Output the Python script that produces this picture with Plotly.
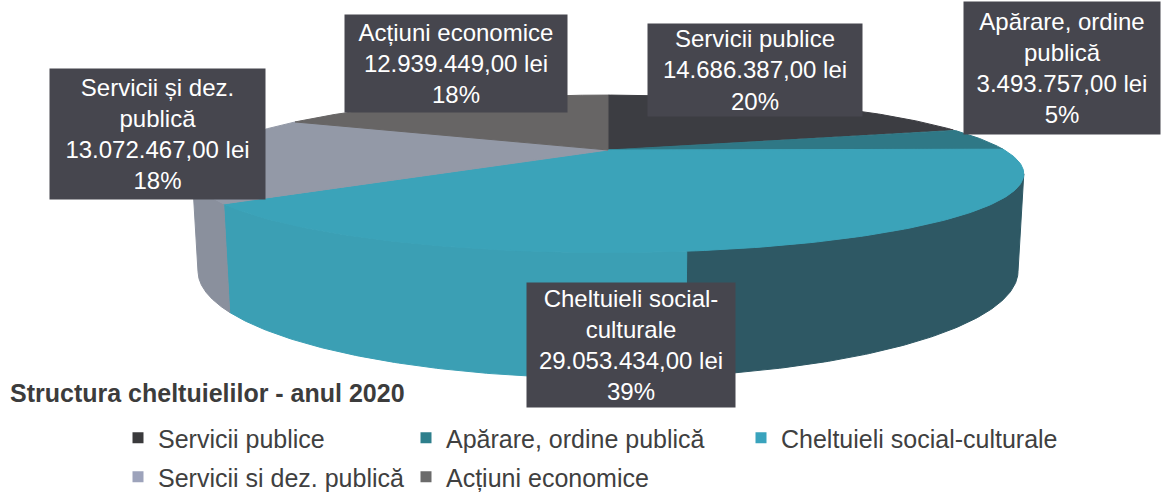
import numpy as np
import plotly.graph_objects as go

# ---------------- data ----------------
categories = ["Servicii publice", "Apărare, ordine publică", "Cheltuieli social-culturale",
              "Servicii si dez. publică", "Acțiuni economice"]
label_names = ["Servicii publice", "Apărare, ordine<br>publică", "Cheltuieli social-<br>culturale",
               "Servicii și dez.<br>publică", "Acțiuni economice"]
values = [14686387.00, 3493757.00, 29053434.00, 13072467.00, 12939449.00]
pct_labels = ["20%", "5%", "39%", "18%", "18%"]
chart_title = "Structura cheltuielilor - anul 2020"

# ---------------- styles ----------------
top_colors = ["#3c3d42", "#2f7886", "#3ba3b9", "#9399a7", "#676565"]
side_lit = ["#37383d", "#2a6a77", "#3b9fb4", "#8a909d", "#5f5d5d"]
side_dark = ["#303136", "#255a64", "#2e5864", "#7d828e", "#555353"]
legend_colors = ["#3a3a3c", "#2e7f8c", "#39a3bd", "#9da3bb", "#6b6b6b"]
FONT = "Liberation Sans, Arial, sans-serif"

# label boxes (pixel centre x, centre y, width, height)
label_boxes = [(755, 70, 214, 92), (1062, 68, 196, 132), (631, 345, 208, 124),
               (157, 134, 215, 130), (456, 63, 222, 97)]
# legend entries (text start x, centre y)
legend_pos = [(158, 438), (446, 438), (781, 438), (158, 477), (446, 477)]

W_PX, H_PX = 1162, 495
CX, CY = 608, 150
K = 1288.0
DIST = 3.25
ALPHA = np.radians(10.4)
THICK = 0.232
SIL = np.degrees(np.arccos(-np.cos(ALPHA) / DIST))
SHADE_SPLIT = 172.0


def proj(phi_deg, z):
    p = np.radians(np.asarray(phi_deg, dtype=float))
    X = np.sin(p)
    Wd = np.cos(p)
    depth = DIST + Wd * np.cos(ALPHA) - z * np.sin(ALPHA)
    v = Wd * np.sin(ALPHA) + z * np.cos(ALPHA)
    return CX + K * X / depth, CY - K * v / depth


def fmt_lei(v):
    s = f"{v:,.2f}"
    s = s.replace(",", "X").replace(".", ",").replace("X", ".")
    return s + " lei"


total = sum(values)
bounds = np.concatenate([[0.0], np.cumsum([v / total * 360.0 for v in values])])

fig = go.Figure()


def add_poly(xs, ys, color):
    fig.add_trace(go.Scatter(x=list(xs), y=list(ys), mode="lines", fill="toself",
                             fillcolor=color, line=dict(color=color, width=1),
                             hoverinfo="skip", showlegend=False))


# sides (front visible part only)
for i in range(len(values)):
    a, b = bounds[i], bounds[i + 1]
    lo, hi = max(a, SIL), min(b, 360 - SIL)
    if hi <= lo:
        continue
    if lo < SHADE_SPLIT < hi:
        pieces = [(lo, SHADE_SPLIT, side_dark[i]), (SHADE_SPLIT, hi, side_lit[i])]
    elif hi <= SHADE_SPLIT:
        pieces = [(lo, hi, side_dark[i])]
    else:
        pieces = [(lo, hi, side_lit[i])]
    for (p0, p1, col) in pieces:
        ph = np.linspace(p0, p1, 120)
        tx, ty = proj(ph, 0.0)
        bx, by = proj(ph[::-1], -THICK)
        add_poly(np.concatenate([tx, bx, tx[:1]]), np.concatenate([ty, by, ty[:1]]), col)

# top faces
for i in range(len(values)):
    a, b = bounds[i], bounds[i + 1]
    ph = np.linspace(a, b, 160)
    rx, ry = proj(ph, 0.0)
    add_poly(np.concatenate([[CX], rx, [CX]]), np.concatenate([[CY], ry, [CY]]), top_colors[i])

# legend entries (each in its own legend so the columns match the original)
layout_legends = {}
for i, name in enumerate(categories):
    key = "legend" if i == 0 else f"legend{i + 1}"
    fig.add_trace(go.Scatter(x=[None], y=[None], mode="markers", name=name,
                             marker=dict(symbol="square", size=11, color=legend_colors[i]),
                             legend=key, showlegend=True))
    tx, ty = legend_pos[i]
    layout_legends[key] = dict(x=(tx - 40) / W_PX, y=1 - ty / H_PX, xanchor="left", yanchor="middle",
                               bgcolor="rgba(0,0,0,0)", borderwidth=0,
                               font=dict(family=FONT, size=25, color="#404040"))

# data labels
annotations = []
for i in range(len(values)):
    cxp, cyp, bw, bh = label_boxes[i]
    txt = f"{label_names[i]}<br>{fmt_lei(values[i])}<br>{pct_labels[i]}"
    annotations.append(dict(x=cxp, y=cyp, xref="x", yref="y", text=txt, showarrow=False,
                            width=bw, height=bh, align="center", valign="middle",
                            bgcolor="#46464e", borderpad=0,
                            font=dict(family=FONT, size=24, color="#ffffff")))
annotations.append(dict(x=8, y=393, xref="x", yref="y", text=f"<b>{chart_title}</b>",
                        showarrow=False, xanchor="left", yanchor="middle",
                        font=dict(family=FONT, size=25, color="#3c3c3c")))

fig.update_layout(
    width=W_PX, height=H_PX, margin=dict(l=0, r=0, t=0, b=0, autoexpand=False),
    paper_bgcolor="#ffffff", plot_bgcolor="#ffffff",
    xaxis=dict(range=[0, W_PX], visible=False, fixedrange=True),
    yaxis=dict(range=[H_PX, 0], visible=False, fixedrange=True),
    annotations=annotations,
    showlegend=True,
    **layout_legends,
)

fig.write_html("out.html", config={"displayModeBar": False},
               post_script="document.body.style.margin='0';")
